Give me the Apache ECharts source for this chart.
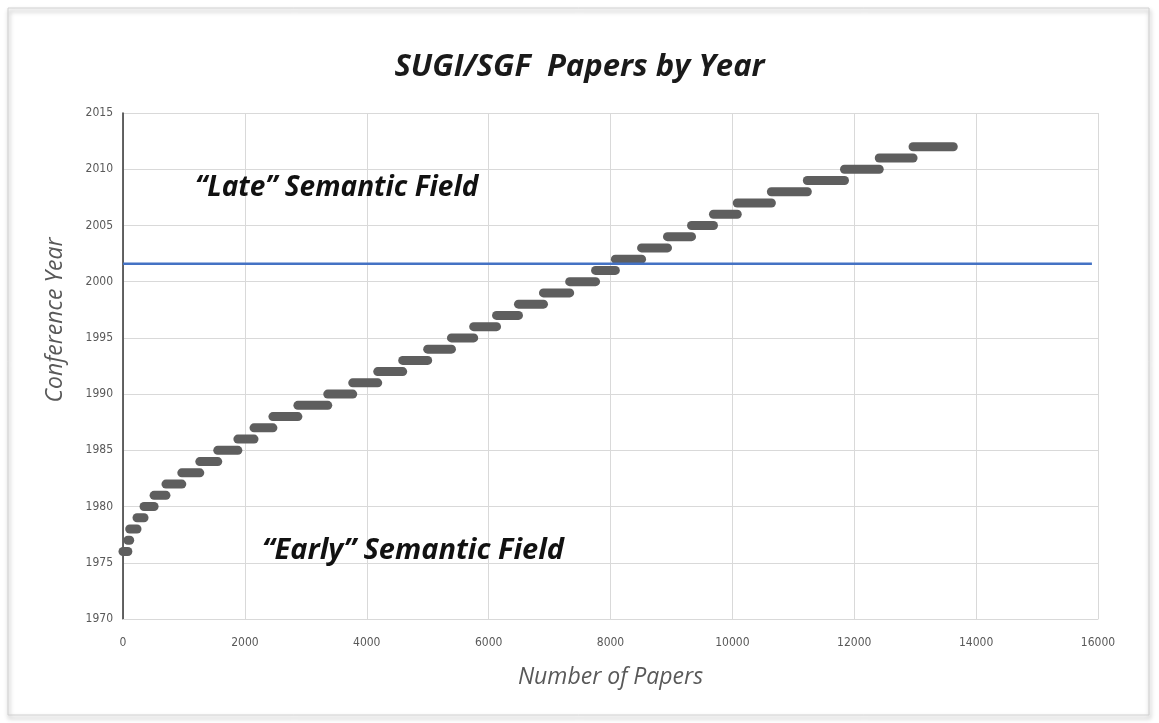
<!DOCTYPE html>
<html>
<head>
<meta charset="utf-8">
<title>SUGI/SGF Papers by Year</title>
<script src="https://cdn.jsdelivr.net/npm/echarts@6/dist/echarts.min.js"></script>
<style>
  html, body { margin: 0; padding: 0; background: #fff; }
  #chart { width: 1159px; height: 723px; }
</style>
</head>
<body>
<div id="chart"></div>
<script>
// conference years and cumulative number of papers at the end of each year
const years = [1976, 1977, 1978, 1979, 1980, 1981, 1982, 1983, 1984, 1985,
  1986, 1987, 1988, 1989, 1990, 1991, 1992, 1993, 1994, 1995,
  1996, 1997, 1998, 1999, 2000, 2001, 2002, 2003, 2004, 2005,
  2006, 2007, 2008, 2009, 2010, 2011, 2012];
const cumPapers = [80, 110, 230, 345, 510, 705, 965, 1260, 1555, 1885,
  2150, 2460, 2870, 3360, 3770, 4180, 4590, 5000, 5390, 5755,
  6130, 6490, 6900, 7330, 7755, 8080, 8510, 8935, 9330, 9690,
  10080, 10640, 11230, 11840, 12410, 12965, 13625];
// early / late split line
const splitYear = 2001.6;
const splitLine = [[0, splitYear], [15900, splitYear]];

const xTicks = { min: 0, max: 16000, interval: 2000 };
const yTicks = { min: 1970, max: 2015, interval: 5 };

const labelFont = '"Liberation Sans Narrow", "DejaVu Sans Condensed", sans-serif';
const textFont = '"Open Sans", Lato, sans-serif';

// one segment per year: [startCount, endCount, year]
const segments = years.map((y, i) => [i ? cumPapers[i - 1] : 0, cumPapers[i], y]);

const chart = echarts.init(document.getElementById('chart'));
chart.setOption({
  animation: false,
  backgroundColor: '#fff',
  title: {
    text: 'SUGI/SGF  Papers by Year',
    left: 'center',
    top: 47,
    textStyle: {
      fontFamily: textFont,
      fontSize: 31,
      fontWeight: 'bold',
      fontStyle: 'italic',
      color: '#1a1a1a'
    }
  },
  grid: { left: 123, right: 61, top: 113, bottom: 104 },
  xAxis: {
    type: 'value',
    min: xTicks.min,
    max: xTicks.max,
    interval: xTicks.interval,
    name: 'Number of Papers',
    nameLocation: 'middle',
    nameGap: 47,
    nameTextStyle: {
      fontFamily: textFont,
      fontSize: 23,
      fontStyle: 'italic',
      color: '#595959'
    },
    axisLine: { show: true, lineStyle: { color: '#d9d9d9' } },
    axisTick: { show: false },
    axisLabel: {
      margin: 18, fontFamily: labelFont, fontSize: 12, color: '#595959',
      formatter: v => String(v)
    },
    splitLine: { show: true, lineStyle: { color: '#d9d9d9', width: 1 } }
  },
  yAxis: {
    type: 'value',
    min: yTicks.min,
    max: yTicks.max,
    interval: yTicks.interval,
    axisLine: { show: true, lineStyle: { color: '#333', width: 1.5 } },
    axisTick: { show: false },
    axisLabel: {
      margin: 10, fontFamily: labelFont, fontSize: 12, color: '#595959',
      formatter: v => String(v)
    },
    splitLine: { show: true, lineStyle: { color: '#d9d9d9', width: 1 } }
  },
  graphic: [
    {
      type: 'rect',
      shape: { x: 8, y: 8, width: 1141, height: 707 },
      style: {
        fill: 'none',
        stroke: '#d0d0d0',
        lineWidth: 1,
        shadowBlur: 4,
        shadowOffsetX: 1,
        shadowOffsetY: 3,
        shadowColor: 'rgba(0,0,0,0.45)'
      },
      z: -1
    },
    {
      // y axis title, sits above the middle of the axis as in the original
      type: 'text',
      x: 55,
      y: 320,
      rotation: Math.PI / 2,
      style: {
        text: 'Conference Year',
        font: 'italic 23px ' + textFont,
        fill: '#595959',
        align: 'center',
        verticalAlign: 'middle'
      }
    },
    {
      type: 'text',
      left: 195,
      top: 174,
      z: 100,
      style: {
        text: '\u201cLate\u201d Semantic Field',
        font: 'italic bold 28px ' + textFont,
        fill: '#111'
      }
    },
    {
      type: 'text',
      left: 262,
      top: 536,
      z: 100,
      style: {
        text: '\u201cEarly\u201d Semantic Field',
        font: 'italic bold 29px ' + textFont,
        fill: '#111'
      }
    }
  ],
  series: [
    {
      type: 'custom',
      name: 'Papers',
      data: segments,
      encode: { x: [0, 1], y: 2 },
      renderItem(params, api) {
        const p1 = api.coord([api.value(0), api.value(2)]);
        const p2 = api.coord([api.value(1), api.value(2)]);
        return {
          type: 'line',
          shape: { x1: p1[0], y1: p1[1], x2: p2[0], y2: p2[1] },
          style: { stroke: '#5e5e5e', lineWidth: 9, lineCap: 'round' }
        };
      },
      z: 3
    },
    {
      type: 'line',
      name: 'Split',
      data: splitLine,
      symbol: 'none',
      lineStyle: { color: '#4472c4', width: 2.5 },
      z: 4
    }
  ]
});
</script>
</body>
</html>
